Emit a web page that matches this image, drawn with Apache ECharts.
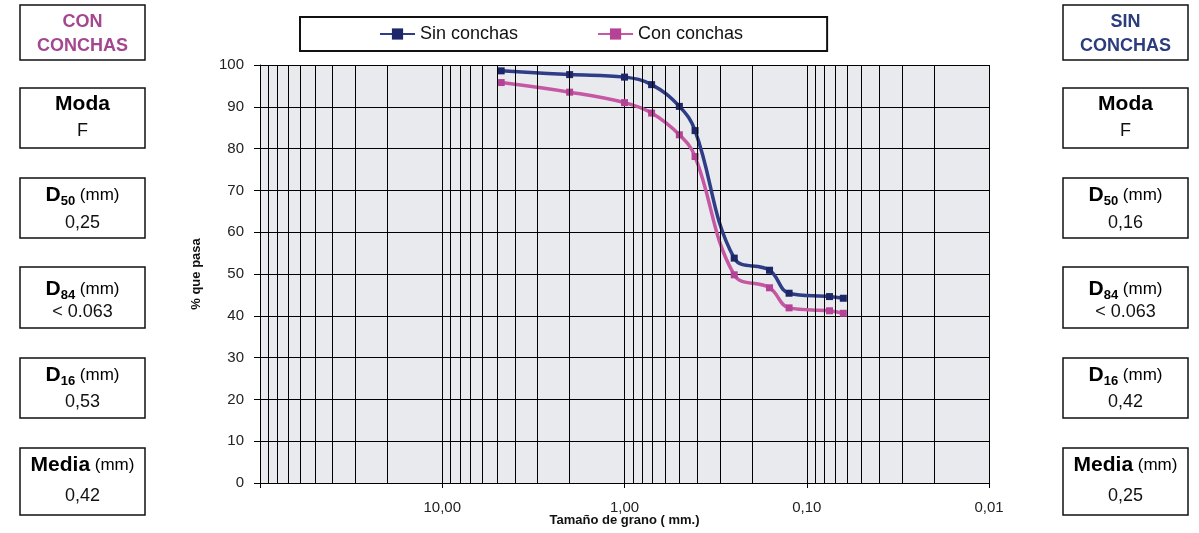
<!DOCTYPE html>
<html>
<head>
<meta charset="utf-8">
<script src="https://cdn.jsdelivr.net/npm/echarts@6/dist/echarts.min.js"></script>
<style>
  html, body { margin: 0; padding: 0; background: #fff; }
  #chart { width: 1199px; height: 533px; }
</style>
</head>
<body>
<div id="chart"></div>
<script>
// Abertura de tamiz (mm) y porcentaje que pasa
const grainSizes = [4.75, 2, 1, 0.71, 0.5, 0.41, 0.25, 0.16, 0.125, 0.075, 0.063];
const sinConchas = [98.6, 97.7, 97.1, 95.3, 90.1, 84.3, 53.8, 50.9, 45.4, 44.6, 44.2];
const conConchas = [95.8, 93.5, 91.0, 88.5, 83.3, 78.1, 49.8, 46.7, 41.9, 41.2, 40.6];

const seriesNames = ['Sin conchas', 'Con conchas'];

// Etiquetas del eje de tamaños (la de 100 mm no se muestra)
const xTickLabels = { 100: '', 10: '10,00', 1: '1,00', 0.1: '0,10', 0.01: '0,01' };

// Parámetros granulométricos de cada muestra
const statNames = ['Moda', 'D50', 'D84', 'D16', 'Media'];
const statsCon = ['F', '0,25', '< 0.063', '0,53', '0,42'];
const statsSin = ['F', '0,16', '< 0.063', '0,42', '0,25'];

const FONT = '"Liberation Sans", Arial, Helvetica, sans-serif';
const BLUE = '#2f3c86';
const BLUE_MARK = '#1c2668';
const PINK = '#c657a3';
const PINK_MARK = '#b44296';
const GRID = '#000';

// Líneas secundarias de la escala logarítmica (2..9 de cada década)
const minorGrid = [];
[0.01, 0.1, 1, 10].forEach(function (dec) {
  for (let k = 2; k <= 9; k++) minorGrid.push(+(k * dec).toPrecision(3));
});

// Rótulo de cada parámetro en texto enriquecido
function statTitle(name) {
  if (name.charAt(0) === 'D') return '{b|D}{sub|' + name.slice(1) + '}{u| (mm)}';
  if (name === 'Media') return '{b|Media}{u| (mm)}';
  return '{b|' + name + '}';
}

const titleRich = {
  b: { fontFamily: FONT, fontSize: 21, fontWeight: 'bold', color: '#111', lineHeight: 26 },
  sub: { fontFamily: FONT, fontSize: 13, fontWeight: 'bold', color: '#111', lineHeight: 14, verticalAlign: 'bottom' },
  u: { fontFamily: FONT, fontSize: 17, color: '#111', lineHeight: 26 }
};

// Cajas laterales
const boxTops = [88, 178, 267, 358, 448];
const boxHeights = [60, 60, 61, 60, 67];
const titleOffsets = [16, 17, 22, 17, 17];
const valueOffsets = [43, 45, 45, 44, 48];

function sideBoxes(x, header, headerColor, values) {
  const w = 125;
  const els = [];
  els.push({
    type: 'rect', shape: { x: x, y: 5, width: w, height: 55 },
    style: { fill: '#fff', stroke: '#111', lineWidth: 1.5 }
  });
  header.forEach(function (t, i) {
    els.push({
      type: 'text', x: x + w / 2, y: 22 + i * 24,
      style: { text: t, font: 'bold 18px ' + FONT, fill: headerColor, align: 'center', verticalAlign: 'middle' }
    });
  });
  statNames.forEach(function (name, i) {
    const top = boxTops[i];
    els.push({
      type: 'rect', shape: { x: x, y: top, width: w, height: boxHeights[i] },
      style: { fill: '#fff', stroke: '#111', lineWidth: 1.5 }
    });
    els.push({
      type: 'text', x: x + w / 2, y: top + titleOffsets[i],
      style: { text: statTitle(name), rich: titleRich, align: 'center', verticalAlign: 'middle' }
    });
    els.push({
      type: 'text', x: x + w / 2, y: top + valueOffsets[i],
      style: { text: values[i], font: '18px ' + FONT, fill: '#111', align: 'center', verticalAlign: 'middle' }
    });
  });
  return els;
}

const chart = echarts.init(document.getElementById('chart'), null, { renderer: 'canvas' });

chart.setOption({
  animation: false,
  backgroundColor: '#fff',
  textStyle: { fontFamily: FONT },
  grid: {
    left: 260, right: 210, top: 65, bottom: 50,
    outerBoundsMode: 'none', containLabel: false,
    show: true, backgroundColor: '#e8eaed', borderWidth: 0
  },
  legend: {
    data: seriesNames,
    left: 300, top: 17,
    padding: [8, 84, 8, 79],
    itemGap: 79,
    itemWidth: 35, itemHeight: 14,
    backgroundColor: '#fff',
    borderColor: '#111', borderWidth: 2, borderRadius: 0,
    textStyle: { fontFamily: FONT, fontSize: 18, color: '#111' },
    selectedMode: false
  },
  xAxis: {
    type: 'log', logBase: 10, min: 0.01, max: 100, inverse: true,
    name: 'Tamaño de grano ( mm.)',
    nameLocation: 'middle', nameGap: 31, nameMoveOverlap: false,
    nameTextStyle: { fontFamily: FONT, fontSize: 13, fontWeight: 'bold', color: '#111' },
    axisLine: { show: true, lineStyle: { color: GRID, width: 1 } },
    axisTick: { show: true, length: 5, lineStyle: { color: GRID } },
    axisLabel: {
      fontFamily: FONT, fontSize: 15, color: '#222', margin: 17,
      formatter: function (v) {
        const key = +(+v).toPrecision(3);
        return xTickLabels[key] !== undefined ? xTickLabels[key] : '';
      }
    },
    splitLine: { show: true, lineStyle: { color: GRID, width: 1 } }
  },
  yAxis: {
    type: 'value', min: 0, max: 100, interval: 10,
    name: '% que pasa',
    nameLocation: 'middle', nameGap: 57, nameRotate: 90, nameMoveOverlap: false,
    nameTextStyle: { fontFamily: FONT, fontSize: 13, fontWeight: 'bold', color: '#111' },
    axisLine: { show: true, lineStyle: { color: GRID, width: 1 } },
    axisTick: { show: true, length: 6, lineStyle: { color: GRID } },
    axisLabel: { fontFamily: FONT, fontSize: 15, color: '#222', margin: 16 },
    splitLine: { show: true, lineStyle: { color: GRID, width: 1 } }
  },
  series: [
    {
      name: 'rejilla', type: 'line', data: [], z: 1, silent: true,
      markLine: {
        silent: true, symbol: ['none', 'none'], animation: false,
        label: { show: false },
        lineStyle: { color: GRID, width: 1, type: 'solid' },
        emphasis: { disabled: true },
        data: minorGrid.map(function (v) { return { xAxis: v }; })
      }
    },
    {
      name: seriesNames[0], type: 'line', z: 3,
      data: grainSizes.map(function (g, i) { return [g, sinConchas[i]]; }),
      smooth: 0.4,
      symbol: 'rect', symbolSize: 7,
      lineStyle: { color: BLUE, width: 3.5 },
      itemStyle: { color: BLUE_MARK },
      emphasis: { disabled: true }
    },
    {
      name: seriesNames[1], type: 'line', z: 2,
      data: grainSizes.map(function (g, i) { return [g, conConchas[i]]; }),
      smooth: 0.4,
      symbol: 'rect', symbolSize: 7,
      lineStyle: { color: PINK, width: 3.5 },
      itemStyle: { color: PINK_MARK },
      emphasis: { disabled: true }
    }
  ],
  graphic: [].concat(
    sideBoxes(20, ['CON', 'CONCHAS'], '#a3478f', statsCon),
    sideBoxes(1063, ['SIN', 'CONCHAS'], '#2b3d7c', statsSin)
  )
});
</script>
</body>
</html>
